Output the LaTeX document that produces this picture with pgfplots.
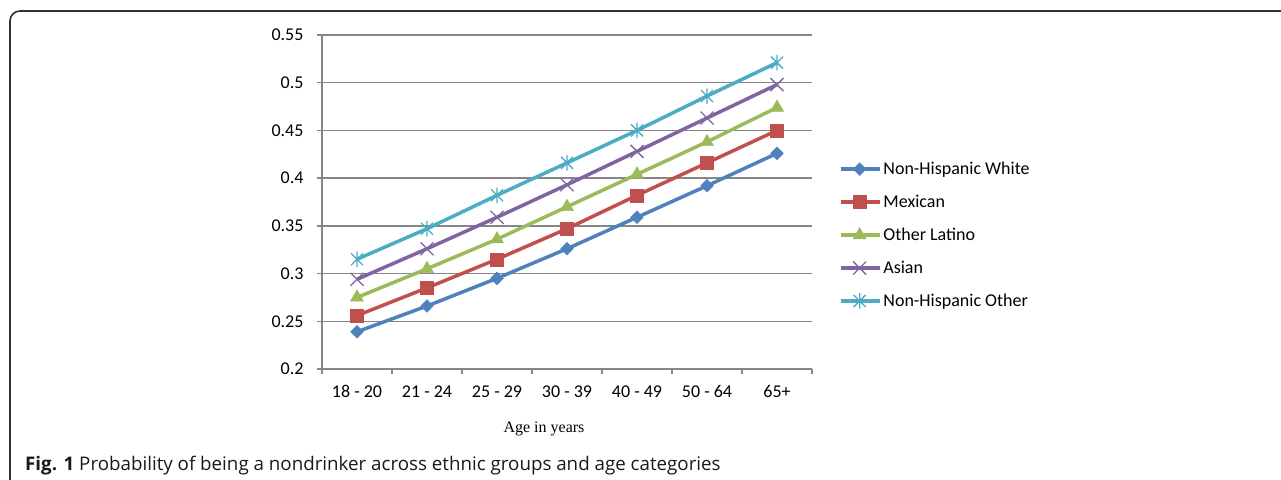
\documentclass[border=0pt]{standalone}
\usepackage{pgfplots}
\pgfplotsset{compat=1.18}
\usepackage{fontspec}
\setmainfont{Carlito}
\newfontfamily\capfont{Open Sans}
\newfontfamily\labfont{Liberation Serif}

\definecolor{sBlue}{HTML}{4F81BD}
\definecolor{sRed}{HTML}{C0504D}
\definecolor{sGreen}{HTML}{9BBB59}
\definecolor{sPurple}{HTML}{8064A2}
\definecolor{sCyan}{HTML}{4BACC6}
\definecolor{axgray}{HTML}{868686}

% thin diagonal cross
\pgfdeclareplotmark{xcross}{%
  \pgfpathmoveto{\pgfqpoint{-\pgfplotmarksize}{-\pgfplotmarksize}}%
  \pgfpathlineto{\pgfqpoint{\pgfplotmarksize}{\pgfplotmarksize}}%
  \pgfpathmoveto{\pgfqpoint{-\pgfplotmarksize}{\pgfplotmarksize}}%
  \pgfpathlineto{\pgfqpoint{\pgfplotmarksize}{-\pgfplotmarksize}}%
  \pgfusepathqstroke}
% diagonal cross with a vertical bar
\pgfdeclareplotmark{xstar}{%
  \pgfpathmoveto{\pgfqpoint{-\pgfplotmarksize}{-\pgfplotmarksize}}%
  \pgfpathlineto{\pgfqpoint{\pgfplotmarksize}{\pgfplotmarksize}}%
  \pgfpathmoveto{\pgfqpoint{-\pgfplotmarksize}{\pgfplotmarksize}}%
  \pgfpathlineto{\pgfqpoint{\pgfplotmarksize}{-\pgfplotmarksize}}%
  \pgfpathmoveto{\pgfqpoint{0pt}{-1.3\pgfplotmarksize}}%
  \pgfpathlineto{\pgfqpoint{0pt}{1.3\pgfplotmarksize}}%
  \pgfusepathqstroke}

\pgfplotstableread{
x white mexican latino asian other
0 0.239 0.256 0.275 0.294 0.315
1 0.266 0.285 0.305 0.326 0.347
2 0.295 0.315 0.336 0.359 0.382
3 0.326 0.347 0.370 0.393 0.416
4 0.359 0.382 0.404 0.428 0.450
5 0.392 0.416 0.438 0.463 0.486
6 0.426 0.450 0.474 0.498 0.521
}\datatable

\begin{document}
\begin{tikzpicture}[x=1pt,y=1pt]
\useasboundingbox (0,0) rectangle (1281,479);
% figure frame
\draw[black!80, line width=1.6pt, rounded corners=10pt] (10,-20) -- (10,468) -- (1300,468);

\begin{axis}[
  at={(322pt,110pt)}, anchor=south west,
  scale only axis, width=490pt, height=334pt,
  xmin=-0.5, xmax=6.5, ymin=0.2, ymax=0.55,
  axis x line*=bottom, axis y line*=left,
  axis line style={axgray, line width=1.3pt, -},
  xtick={0,...,6},
  xticklabels={18 - 20,21 - 24,25 - 29,30 - 39,40 - 49,50 - 64,65+},
  major x tick style={draw=none},
  minor xtick={-0.5,0.5,...,6.5},
  minor x tick style={axgray, line width=1.3pt},
  ytick={0.2,0.25,0.3,0.35,0.4,0.45,0.5,0.55},
  yticklabels={0.2,0.25,0.3,0.35,0.4,0.45,0.5,0.55},
  major y tick style={axgray, line width=1.3pt},
  tick align=outside,
  major tick length=5pt, minor tick length=5pt,
  ymajorgrids,
  grid style={axgray, line width=1.3pt},
  tick label style={font=\fontsize{18}{21}\selectfont, text=black},
  xticklabel style={yshift=-8pt},
  yticklabel style={xshift=-10pt},
  clip=false,
  legend style={at={(1.0545,0.401)}, anchor=west, draw=none, fill=none,
    font=\fontsize{18}{21}\selectfont, row sep=15pt, inner sep=0pt,
    /tikz/every odd column/.append style={column sep=0pt}},
  legend cell align=left,
  legend image code/.code={\draw[mark repeat=2,mark phase=2] plot coordinates {(0pt,0pt) (19pt,0pt) (39pt,0pt)};},
]
\addplot[sBlue, line width=3.5pt, mark=square*, mark size=4.5pt, mark options={rotate=45, solid, line width=0.5pt}] table[x=x,y=white] {\datatable};
\addlegendentry{Non-Hispanic White}
\addplot[sRed, line width=3.5pt, mark=square*, mark size=6.5pt, mark options={solid, line width=0.5pt}] table[x=x,y=mexican] {\datatable};
\addlegendentry{Mexican}
\addplot[sGreen, line width=3.5pt, mark=triangle*, mark size=7.5pt, mark options={solid, line width=0.5pt}] table[x=x,y=latino] {\datatable};
\addlegendentry{Other Latino}
\addplot[sPurple, line width=3.5pt, mark=xcross, mark size=6.5pt, mark options={solid, line width=1.3pt}] table[x=x,y=asian] {\datatable};
\addlegendentry{Asian}
\addplot[sCyan, line width=3.5pt, mark=xstar, mark size=6pt, mark options={solid, line width=1.3pt}] table[x=x,y=other] {\datatable};
\addlegendentry{Non-Hispanic Other}
\end{axis}

\node[font=\labfont\fontsize{16}{19}\selectfont] at (544,50) {Age in years};
\node[anchor=base west, inner sep=0pt, font=\capfont\fontsize{18.75}{22}\selectfont, text=black!90]
  at (25,9) {\textbf{Fig. 1} Probability of being a nondrinker across ethnic groups and age categories};
\end{tikzpicture}
\end{document}
